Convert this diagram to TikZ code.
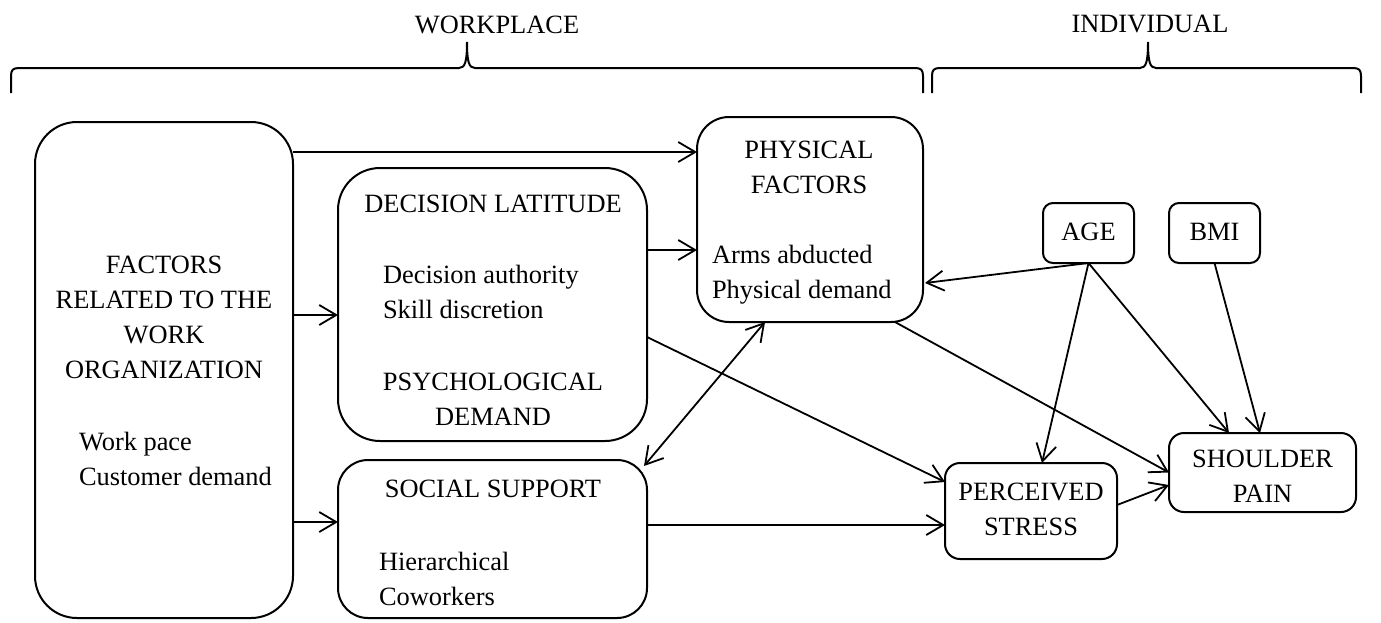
\documentclass[tikz,border=0pt]{standalone}
\usepackage{fontspec}
\setmainfont{Liberation Serif}
\usetikzlibrary{arrows.meta}
\tikzset{
  box/.style={draw, line width=1pt, inner sep=0pt, outer sep=0pt},
  txt/.style={inner sep=0pt, outer sep=0pt, font=\fontsize{13.2pt}{17.5pt}\selectfont},
  ctr/.style={txt, anchor=base},
  lft/.style={txt, anchor=base west},
  barb/.tip={Straight Barb[length=8.5pt,width=10pt,line width=0.9pt]},
  arr/.style={line width=0.9pt, -barb},
  darr/.style={line width=0.9pt, barb-barb},
  brace/.style={line width=1pt},
}
\begin{document}
\begin{tikzpicture}[x=0.5pt,y=-0.5pt]
\useasboundingbox (0,0) rectangle (1381,622);

% braces
\draw[brace] (11,93) -- (11,76) .. controls (11,70) and (13,68) .. (19,68) -- (459,68)
  .. controls (465,68) and (467,62) .. (467,42) .. controls (467,62) and (469,68) .. (475,68)
  -- (915,68) .. controls (921,68) and (923,70) .. (923,76) -- (923,93);
\draw[brace] (932,93) -- (932,76) .. controls (932,70) and (934,68) .. (940,68) -- (1140,68)
  .. controls (1146,68) and (1148,62) .. (1148,42) .. controls (1148,62) and (1150,68) .. (1156,68)
  -- (1353,68) .. controls (1359,68) and (1361,70) .. (1361,76) -- (1361,93);
\node[ctr] (wp) at (497,33) {WORKPLACE};
\node[ctr] (ind) at (1150,32) {INDIVIDUAL};

% boxes
\node[box, rounded corners=21pt, minimum width=129pt, minimum height=248pt] (fac) at (164,370) {};
\node[box, rounded corners=21pt, minimum width=154.5pt, minimum height=136.5pt] (dec) at (492.5,304.5) {};
\node[box, rounded corners=15pt, minimum width=154.5pt, minimum height=79pt] (soc) at (492.5,539) {};
\node[box, rounded corners=16pt, minimum width=113pt, minimum height=102.5pt] (phy) at (810,219.5) {};
\node[box, rounded corners=5pt, minimum width=45.5pt, minimum height=30pt] (age) at (1088.5,233) {};
\node[box, rounded corners=5pt, minimum width=45.5pt, minimum height=30pt] (bmi) at (1214.5,233) {};
\node[box, rounded corners=7.5pt, minimum width=86pt, minimum height=48pt] (str) at (1031,511) {};
\node[box, rounded corners=7.5pt, minimum width=93.5pt, minimum height=39.5pt] (sho) at (1262.5,472.5) {};

% texts
\node[ctr] (fac1) at (164,273) {FACTORS};
\node[ctr] (fac2) at (164,308) {RELATED TO THE};
\node[ctr] (fac3) at (164,343) {WORK};
\node[ctr] (fac4) at (164,378) {ORGANIZATION};
\node[lft] (fac5) at (79,450) {Work pace};
\node[lft] (fac6) at (79,485) {Customer demand};

\node[ctr] (dec1) at (493,212) {DECISION LATITUDE};
\node[lft] (dec2) at (383,283) {Decision authority};
\node[lft] (dec3) at (383,318) {Skill discretion};
\node[ctr] (dec4) at (493,390) {PSYCHOLOGICAL};
\node[ctr] (dec5) at (493,425) {DEMAND};

\node[ctr] (soc1) at (493,497) {SOCIAL SUPPORT};
\node[lft] (soc2) at (379,570) {Hierarchical};
\node[lft] (soc3) at (379,605) {Coworkers};

\node[ctr] (phy1) at (809,158) {PHYSICAL};
\node[ctr] (phy2) at (809,193) {FACTORS};
\node[lft] (phy3) at (712,263) {Arms abducted};
\node[lft] (phy4) at (712,298) {Physical demand};

\node[ctr] (age1) at (1088.5,240) {AGE};
\node[ctr] (bmi1) at (1214.5,240) {BMI};
\node[ctr] (str1) at (1031,500) {PERCEIVED};
\node[ctr] (str2) at (1031,535) {STRESS};
\node[ctr] (sho1) at (1262.5,467) {SHOULDER};
\node[ctr] (sho2) at (1262.5,502) {PAIN};

% connectors
\draw[arr] ([yshift=-15pt]fac.north east) -- ([yshift=33.75pt]phy.west);
\draw[arr] ([yshift=27.5pt]fac.east) -- ([yshift=-5.25pt]dec.west);
\draw[arr] ([yshift=-76pt]fac.east) -- ([yshift=8.5pt]soc.west);
\draw[arr] ([yshift=27.25pt]dec.east) -- ([yshift=-15.25pt]phy.west);
\draw[arr] ([yshift=-16.25pt]dec.east) -- ([yshift=14.5pt]str.west);
\draw[arr] ([yshift=7pt]soc.east) -- ([yshift=-7pt]str.west);
\draw[darr] ([xshift=-22.5pt]phy.south) -- ([xshift=-1.5pt,yshift=-3pt]soc.north east);
\draw[arr] (age.south) -- ([xshift=1pt,yshift=-31.75pt]phy.east);
\draw[arr] (age.south) -- ([xshift=5.5pt]str.north);
\draw[arr] (age.south) -- ([xshift=-16.75pt]sho.north);
\draw[arr] (bmi.south) -- ([xshift=-1.25pt]sho.north);
\draw[arr] ([xshift=-14pt]phy.south east) -- (sho.west);
\draw[arr] ([yshift=3pt]str.east) -- ([yshift=-6.25pt]sho.west);
\end{tikzpicture}
\end{document}
